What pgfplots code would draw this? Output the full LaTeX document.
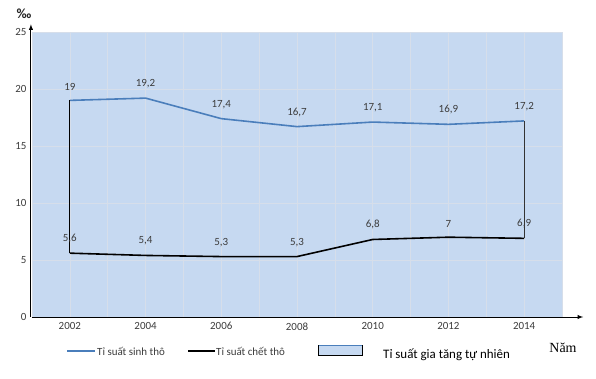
\documentclass[border=0pt]{standalone}
\usepackage{pgfplots}
\pgfplotsset{compat=1.18}
\usepackage{fontspec}
\setmainfont{Carlito}
\newfontfamily\serifnam{Liberation Serif}
\definecolor{bgblue}{RGB}{198,217,241}
\definecolor{lineblue}{RGB}{74,126,187}
\definecolor{gridc}{RGB}{214,222,234}
\definecolor{txt}{RGB}{60,60,60}
\begin{document}
\begin{tikzpicture}
\useasboundingbox (0,0) rectangle (596bp,379bp);
\begin{axis}[
  at={(32bp,62bp)}, anchor=south west,
  scale only axis, width=530bp, height=285bp,
  xmin=-0.5, xmax=6.5, ymin=0, ymax=25,
  xtick={0,...,6}, xticklabels={2002,2004,2006,2008,2010,2012,2014},
  minor xtick={-0.5,0.5,...,6.5},
  ytick={0,5,...,25},
  grid=both,
  major grid style={draw=gridc, line width=0.6pt},
  minor grid style={draw=gridc, line width=0.6pt},
  axis background/.style={fill=bgblue},
  axis line style={draw=none},
  major tick length=0pt, minor tick length=0pt,
  tick label style={font=\fontsize{11}{13}\selectfont, text=txt},
  /pgf/number format/assume math mode=true,
  /pgf/number format/use comma,
  xticklabel style={yshift=-2bp},
  yticklabel style={xshift=-2bp},
  clip=false,
  nodes near coords style={font=\fontsize{11}{13}\selectfont, text=txt, anchor=south, yshift=6bp},
]
\addplot[lineblue, line width=1.6pt,
  nodes near coords={\pgfmathprintnumber[use comma,fixed,precision=1]{\pgfplotspointmeta}}] coordinates {
  (0,19) (1,19.2) (2,17.4) (3,16.7) (4,17.1) (5,16.9) (6,17.2)};
\addplot[black, line width=1.6pt,
  nodes near coords={\pgfmathprintnumber[use comma,fixed,precision=1]{\pgfplotspointmeta}}] coordinates {
  (0,5.6) (1,5.4) (2,5.3) (3,5.3) (4,6.8) (5,7) (6,6.9)};
\addplot[black, line width=0.8pt, no marks] coordinates {(0,5.6) (0,19)};
\addplot[black!80, line width=0.8pt, no marks] coordinates {(6,6.9) (6,17.2)};
\draw[black, line width=0.9pt, -latex] (rel axis cs:0,0) -- (rel axis cs:1.04,0);
\draw[black, line width=0.9pt, -latex] (rel axis cs:-0.002,0) -- (rel axis cs:-0.002,1.027);
\end{axis}
% per-mille unit
\node[font=\fontsize{14}{16}\selectfont\bfseries, text=black!85] at (24bp,365bp) {‰};
% legend
\draw[lineblue, line width=1.6pt] (67bp,28bp) -- (95bp,28bp);
\node[anchor=west, inner sep=1bp, font=\fontsize{11}{13}\selectfont, text=txt] at (96bp,28bp) {Tỉ suất sinh thô};
\draw[black, line width=1.6pt] (188bp,28bp) -- (215bp,28bp);
\node[anchor=west, inner sep=1bp, font=\fontsize{11}{13}\selectfont, text=txt] at (215bp,28bp) {Tỉ suất chết thô};
\draw[black, line width=0.7pt, fill=bgblue] (318bp,24bp) rectangle (362bp,34bp);
\draw[lineblue, line width=1pt] (318.5bp,33.5bp) -- (361.5bp,33.5bp);
\node[anchor=west, inner sep=1bp, font=\fontsize{13}{15}\selectfont, text=black] at (382bp,24bp) {Tỉ suất gia tăng tự nhiên};
\node[font=\fontsize{14}{16}\selectfont\serifnam, text=black] at (563bp,31bp) {Năm};
\end{tikzpicture}
\end{document}
